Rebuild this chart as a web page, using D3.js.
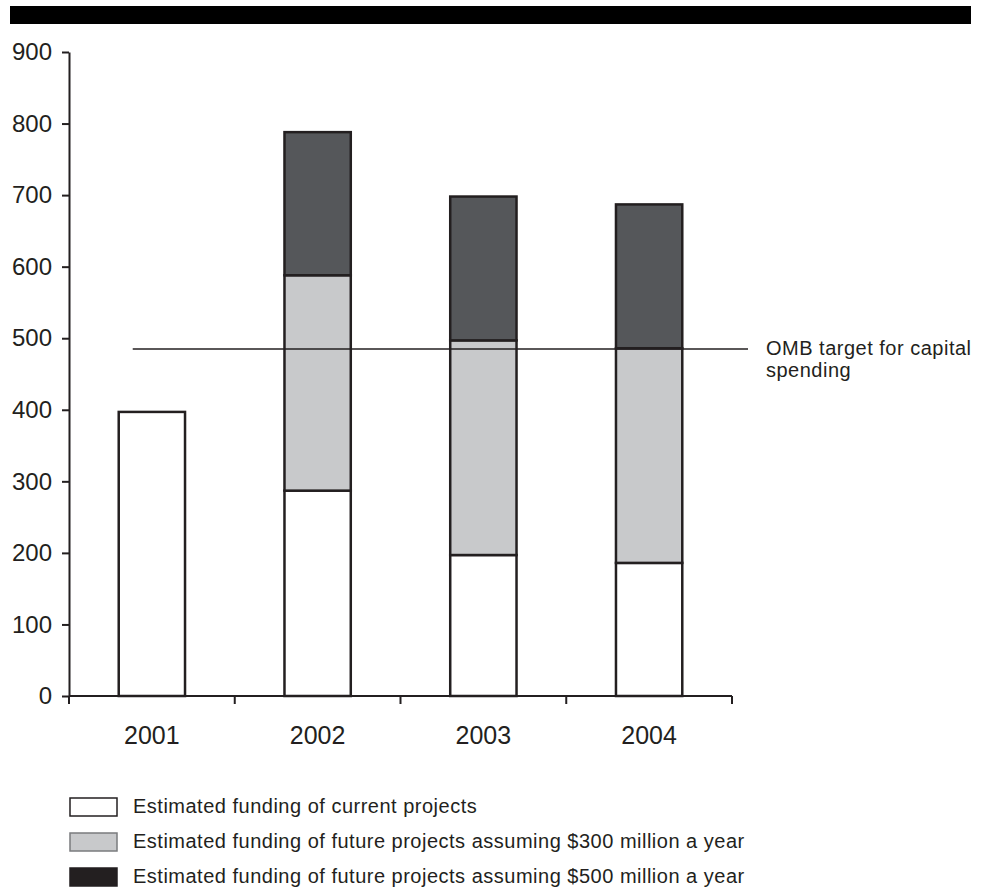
<!DOCTYPE html>
<html>
<head>
<meta charset="utf-8">
<script src="https://cdn.jsdelivr.net/npm/d3@7"></script>
<style>
  body { margin: 0; background: #fff; }
  svg text { font-family: "Liberation Sans", Arial, Helvetica, sans-serif; fill: #231f20; }
  .axis path, .axis line { stroke: #231f20; stroke-width: 2px; }
</style>
</head>
<body>
<div id="chart"></div>
<script>
// data (millions of dollars)
var years = ["2001", "2002", "2003", "2004"];
var currentProjects = [397, 287, 197, 186];
var future300 = [0, 301, 300, 300];
var future500 = [0, 200, 201, 201];
var yTicks = [0, 100, 200, 300, 400, 500, 600, 700, 800, 900];
var ombTarget = 485;
var ombLabel = ["OMB target for capital", "spending"];
var seriesNames = [
    "Estimated funding of current projects",
    "Estimated funding of future projects assuming $300 million a year",
    "Estimated funding of future projects assuming $500 million a year"
];

var width = 989, height = 890;
var margin = { top: 52, left: 69, bottom: 194 };
var plotRight = 732;

var colors = ["#ffffff", "#c8c9cb", "#55575a"];
var legendColors = ["#ffffff", "#c8c9cb", "#231f20"];
var legendStrokes = ["#231f20", "#7a7b7e", "#231f20"];

var svg = d3.select("#chart").append("svg")
    .attr("width", width)
    .attr("height", height);

// black band at top
svg.append("rect")
    .attr("x", 10).attr("y", 6)
    .attr("width", 961).attr("height", 18)
    .attr("fill", "#000");

var xScale = d3.scaleBand()
    .domain(years)
    .range([margin.left, plotRight])
    .paddingInner(0.6)
    .paddingOuter(0.3);

var yScale = d3.scaleLinear()
    .domain([0, 900])
    .range([height - margin.bottom, margin.top]);

// stack the three series
var rows = years.map(function (y, i) {
    return { year: y, a: currentProjects[i], b: future300[i], c: future500[i] };
});
var stacked = d3.stack().keys(["a", "b", "c"])(rows);

var layers = svg.selectAll(".layer")
    .data(stacked)
    .enter().append("g")
    .attr("class", "layer")
    .attr("fill", function (d, i) { return colors[i]; });

layers.selectAll("rect")
    .data(function (d) { return d.filter(function (p) { return p[1] - p[0] > 0; }); })
    .enter().append("rect")
    .attr("x", function (d) { return xScale(d.data.year); })
    .attr("y", function (d) { return yScale(d[1]); })
    .attr("width", xScale.bandwidth())
    .attr("height", function (d) { return yScale(d[0]) - yScale(d[1]); })
    .attr("stroke", "#231f20")
    .attr("stroke-width", 2.5);

// OMB target line
svg.append("line")
    .attr("x1", xScale("2001") + 14)
    .attr("x2", 748)
    .attr("y1", yScale(ombTarget))
    .attr("y2", yScale(ombTarget))
    .attr("stroke", "#231f20")
    .attr("stroke-width", 1.5);

svg.append("text")
    .attr("x", 766)
    .attr("y", yScale(ombTarget) + 6)
    .style("font-size", "20px")
    .style("letter-spacing", "0.5px")
    .selectAll("tspan")
    .data(ombLabel)
    .enter().append("tspan")
    .attr("x", 766)
    .attr("dy", function (d, i) { return i === 0 ? 0 : 22; })
    .text(function (d) { return d; });

// y axis
svg.append("g")
    .attr("class", "axis")
    .attr("transform", "translate(" + margin.left + ",0)")
    .call(d3.axisLeft(yScale).tickValues(yTicks).tickSize(7).tickPadding(10).tickSizeOuter(0))
    .selectAll("text")
    .style("font-size", "24px");

// x axis: line + boundary ticks + centered labels
var step = xScale.step();
var bounds = [margin.left];
years.forEach(function (y) {
    bounds.push(xScale(y) + xScale.bandwidth() / 2 + step / 2);
});

var xAxis = svg.append("g")
    .attr("class", "axis")
    .attr("transform", "translate(0," + yScale(0) + ")");

xAxis.append("line")
    .attr("x1", margin.left).attr("x2", plotRight)
    .attr("y1", 0).attr("y2", 0);

xAxis.selectAll(".btick")
    .data(bounds)
    .enter().append("line")
    .attr("class", "btick")
    .attr("x1", function (d) { return d; })
    .attr("x2", function (d) { return d; })
    .attr("y1", 0).attr("y2", 8);

xAxis.selectAll(".xlabel")
    .data(years)
    .enter().append("text")
    .attr("class", "xlabel")
    .attr("x", function (d) { return xScale(d) + xScale.bandwidth() / 2; })
    .attr("y", 48)
    .attr("text-anchor", "middle")
    .style("font-size", "25px")
    .text(function (d) { return d; });

// legend
var legend = svg.selectAll(".legend")
    .data(seriesNames)
    .enter().append("g")
    .attr("class", "legend")
    .attr("transform", function (d, i) { return "translate(70," + (798 + i * 35) + ")"; });

legend.append("rect")
    .attr("width", 47)
    .attr("height", 18)
    .attr("fill", function (d, i) { return legendColors[i]; })
    .attr("stroke", function (d, i) { return legendStrokes[i]; })
    .attr("stroke-width", 1.5);

legend.append("text")
    .attr("x", 63)
    .attr("y", 15)
    .style("font-size", "20px")
    .style("letter-spacing", "0.5px")
    .text(function (d) { return d; });
</script>
</body>
</html>
